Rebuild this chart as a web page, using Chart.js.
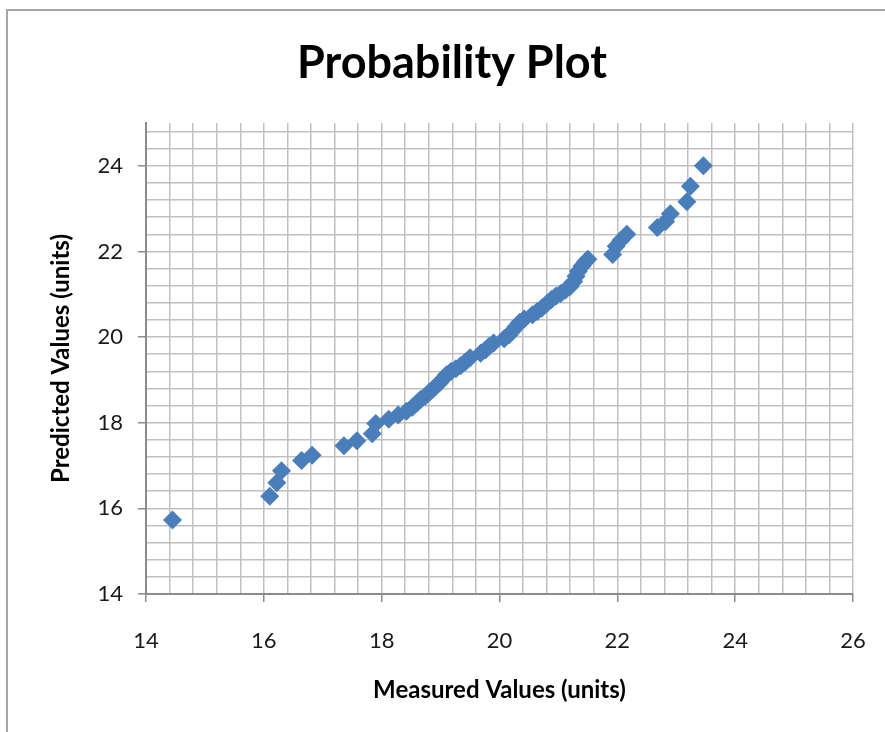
<!DOCTYPE html>
<html>
<head>
<meta charset="utf-8">
<script src="https://cdn.jsdelivr.net/npm/chart.js@4"></script>
<style>
  html, body { margin: 0; padding: 0; background: #fff; }
  #frame { position: absolute; left: 6px; top: 9px; width: 885px; height: 730px;
           border-top: 2px solid #a6a6a6; border-left: 2px solid #a6a6a6; }
  #wrap { position: absolute; left: 0; top: 0; width: 885px; height: 732px; }
</style>
</head>
<body>
<div id="frame"></div>
<div id="wrap"><canvas id="c" width="885" height="732"></canvas></div>
<script>
const chartTitle = "Probability Plot";
const xTitle = "Measured Values (units)";
const yTitle = "Predicted Values (units)";

const measured = [14.45,16.10,16.22,16.30,16.64,16.82,17.36,17.58,17.84,17.90,18.12,18.28,18.42,18.52,18.60,18.66,18.74,18.80,18.86,18.92,18.98,19.04,19.10,19.18,19.26,19.34,19.42,19.50,19.68,19.76,19.82,19.90,20.08,20.16,20.22,20.28,20.34,20.42,20.56,20.64,20.72,20.80,20.88,20.96,21.04,21.12,21.20,21.26,21.30,21.34,21.40,21.46,21.50,21.92,21.98,22.06,22.16,22.68,22.82,22.90,23.18,23.24,23.46];
const predicted = [15.73,16.28,16.60,16.88,17.12,17.24,17.46,17.58,17.74,17.98,18.08,18.18,18.27,18.36,18.46,18.54,18.62,18.70,18.77,18.85,18.93,19.02,19.12,19.20,19.26,19.33,19.42,19.52,19.62,19.70,19.78,19.86,19.96,20.05,20.14,20.24,20.34,20.42,20.52,20.60,20.68,20.78,20.88,20.96,21.02,21.10,21.18,21.30,21.42,21.54,21.66,21.76,21.82,21.93,22.12,22.26,22.40,22.56,22.70,22.88,23.16,23.52,24.00];

const xMin = 14, xMax = 26, yMin = 14, yMax = 25;
const majorStep = 2, minorStep = 0.4;

const points = measured.map((m, i) => ({ x: m, y: predicted[i] }));

function buildTicks(min, max) {
  const t = [];
  for (let k = 0; ; k++) {
    const v = Math.round((min + k * minorStep) * 10) / 10;
    if (v > max + 1e-9) break;
    t.push({ value: v });
  }
  return t;
}
function isMajor(v) { return Math.abs(v / majorStep - Math.round(v / majorStep)) < 1e-6; }

const LEFT = 146, TOP = 123, BOTTOM = 594, RIGHT = 853;
const W = 885, H = 732;
const fontFam = "Lato, 'Open Sans', sans-serif";

const titlePlugin = {
  id: 'pageTitle',
  afterDraw(chart) {
    const ctx = chart.ctx;
    ctx.save();
    ctx.fillStyle = '#000';
    ctx.font = "bold 45px " + fontFam;
    ctx.textAlign = 'center';
    ctx.textBaseline = 'alphabetic';
    ctx.fillText(chartTitle, 452, 78);
    ctx.restore();
  }
};

new Chart(document.getElementById('c'), {
  type: 'scatter',
  data: {
    datasets: [{
      data: points,
      pointStyle: 'rectRot',
      pointRadius: 9.5,
      pointHoverRadius: 9.5,
      backgroundColor: '#4a7ebb',
      borderColor: '#4a7ebb',
      borderWidth: 0
    }]
  },
  plugins: [titlePlugin],
  options: {
    responsive: false,
    animation: false,
    events: [],
    layout: { padding: { left: 0, right: W - RIGHT, top: TOP, bottom: 0 } },
    plugins: {
      legend: { display: false },
      tooltip: { enabled: false },
      title: { display: false }
    },
    scales: {
      x: {
        type: 'linear',
        min: xMin, max: xMax,
        afterBuildTicks: s => { s.ticks = buildTicks(xMin, xMax); },
        afterFit: s => { s.height = H - BOTTOM; s.paddingLeft = 0; s.paddingRight = 0; },
        grid: {
          color: '#c0c0c0', lineWidth: 1.5,
          drawTicks: true, tickLength: 8,
          tickColor: ctx => (ctx.tick && isMajor(ctx.tick.value)) ? '#8c8c8c' : 'rgba(0,0,0,0)',
          tickWidth: 1.5
        },
        border: { display: true, color: '#8c8c8c', width: 2 },
        ticks: {
          autoSkip: false, maxRotation: 0,
          padding: 26,
          color: '#1a1a1a',
          font: { family: fontFam, size: 22 },
          callback: v => isMajor(v) ? String(Math.round(v)) : ''
        },
        title: {
          display: true, text: xTitle, color: '#000',
          font: { family: fontFam, size: 24, weight: 'bold', lineHeight: 1.2 },
          padding: { top: 0, bottom: 27 }
        }
      },
      y: {
        type: 'linear',
        min: yMin, max: yMax,
        afterBuildTicks: s => { s.ticks = buildTicks(yMin, yMax - 0.1); },
        afterFit: s => { s.width = LEFT; s.paddingTop = 0; s.paddingBottom = 0; },
        grid: {
          color: '#c0c0c0', lineWidth: 1.5,
          drawTicks: true, tickLength: 8,
          tickColor: ctx => (ctx.tick && isMajor(ctx.tick.value)) ? '#8c8c8c' : 'rgba(0,0,0,0)',
          tickWidth: 1.5
        },
        border: { display: true, color: '#8c8c8c', width: 2 },
        ticks: {
          autoSkip: false,
          padding: 15,
          color: '#1a1a1a',
          font: { family: fontFam, size: 22 },
          callback: v => isMajor(v) ? String(Math.round(v)) : ''
        },
        title: {
          display: true, text: yTitle, color: '#000',
          font: { family: fontFam, size: 24, weight: 'bold', lineHeight: 1.2 },
          padding: { top: 47, bottom: 0 }
        }
      }
    }
  }
});
</script>
</body>
</html>
